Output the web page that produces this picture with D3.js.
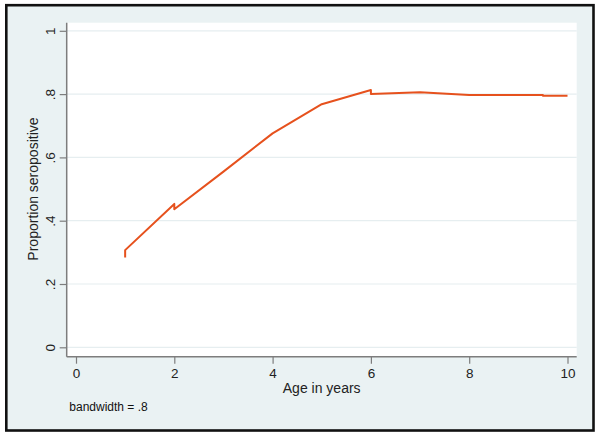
<!DOCTYPE html>
<html>
<head>
<meta charset="utf-8">
<script src="https://cdn.jsdelivr.net/npm/d3@7"></script>
<style>
  html, body { margin: 0; padding: 0; background: #ffffff; }
  svg { display: block; font-family: "Liberation Sans", Arial, sans-serif; }
</style>
</head>
<body>
<svg id="chart" width="600" height="439"></svg>
<script>
// ---- data ----
const ages = [1, 1, 2, 2, 3, 4, 5, 6, 6, 7, 8, 9.5, 9.5, 10];
const proportions = [0.284, 0.307, 0.453, 0.436, 0.555, 0.676, 0.768, 0.813, 0.800, 0.806, 0.797, 0.797, 0.795, 0.795];
const xTicks = [0, 2, 4, 6, 8, 10];
const yTicks = [0, 0.2, 0.4, 0.6, 0.8, 1];
const yTickLabels = ["0", ".2", ".4", ".6", ".8", "1"];
const xTitle = "Age in years";
const yTitle = "Proportion seropositive";
const note = "bandwidth = .8";

const svg = d3.select("#chart");
const W = 600, H = 439;

// outer frame
svg.append("rect").attr("x", 0).attr("y", 0).attr("width", W).attr("height", H).attr("fill", "#ffffff");
svg.append("rect")
  .attr("x", 6.3).attr("y", 5.2).attr("width", 587.2).attr("height", 425.3)
  .attr("fill", "#eaf2f3").attr("stroke", "#111111").attr("stroke-width", 2.6);

// plot region
const plot = { left: 66.7, right: 576.7, top: 22.7, bottom: 356.7 };
svg.append("rect")
  .attr("x", plot.left).attr("y", plot.top)
  .attr("width", plot.right - plot.left).attr("height", plot.bottom - plot.top)
  .attr("fill", "#ffffff");

const x = d3.scaleLinear().domain([0, 10]).range([76, 567.5]);
const y = d3.scaleLinear().domain([0, 1]).range([347.3, 30.8]);

// gridlines
svg.append("g").selectAll("line").data(yTicks).join("line")
  .attr("x1", plot.left).attr("x2", plot.right)
  .attr("y1", d => y(d)).attr("y2", d => y(d))
  .attr("stroke", "#e6eef0").attr("stroke-width", 1.2);

// y axis
const yAxis = d3.axisLeft(y).tickValues(yTicks).tickSize(7).tickPadding(4.5)
  .tickFormat((d, i) => yTickLabels[i]);
const gy = svg.append("g").attr("transform", `translate(${plot.left},0)`).call(yAxis);
gy.select(".domain").remove();
gy.selectAll(".tick line").attr("stroke", "#7d7d7d").attr("stroke-width", 1.2);
gy.selectAll(".tick text")
  .attr("fill", "#222222").attr("font-size", 13.5)
  .attr("x", null).attr("dy", null)
  .attr("text-anchor", "middle")
  .attr("transform", "translate(-11.7,0) rotate(-90)");
svg.append("line")
  .attr("x1", plot.left).attr("x2", plot.left)
  .attr("y1", plot.top).attr("y2", plot.bottom)
  .attr("stroke", "#7d7d7d").attr("stroke-width", 1.5);

// x axis
const xAxis = d3.axisBottom(x).tickValues(xTicks).tickSize(7).tickPadding(4)
  .tickFormat(d3.format("d"));
const gx = svg.append("g").attr("transform", `translate(0,${plot.bottom})`).call(xAxis);
gx.select(".domain").remove();
gx.selectAll(".tick line").attr("stroke", "#7d7d7d").attr("stroke-width", 1.2);
gx.selectAll(".tick text").attr("fill", "#222222").attr("font-size", 13.5)
  .attr("dy", null).attr("y", 21.6);
svg.append("line")
  .attr("x1", plot.left).attr("x2", plot.right)
  .attr("y1", plot.bottom).attr("y2", plot.bottom)
  .attr("stroke", "#7d7d7d").attr("stroke-width", 1.5);

// axis titles
svg.append("text")
  .attr("x", (plot.left + plot.right) / 2).attr("y", 392.7)
  .attr("text-anchor", "middle").attr("font-size", 14).attr("fill", "#222222")
  .text(xTitle);
svg.append("text")
  .attr("transform", `translate(37.5,${(y(0) + y(1)) / 2}) rotate(-90)`)
  .attr("text-anchor", "middle").attr("font-size", 14).attr("fill", "#222222")
  .text(yTitle);

// note
svg.append("text")
  .attr("x", 69.3).attr("y", 411).attr("font-size", 12).attr("fill", "#111111")
  .text(note);

// line
const pts = ages.map((a, i) => [a, proportions[i]]);
svg.append("path")
  .datum(pts)
  .attr("fill", "none")
  .attr("stroke", "#e6511d")
  .attr("stroke-width", 2)
  .attr("stroke-linejoin", "round")
  .attr("d", d3.line().x(d => x(d[0])).y(d => y(d[1])));
</script>
</body>
</html>
